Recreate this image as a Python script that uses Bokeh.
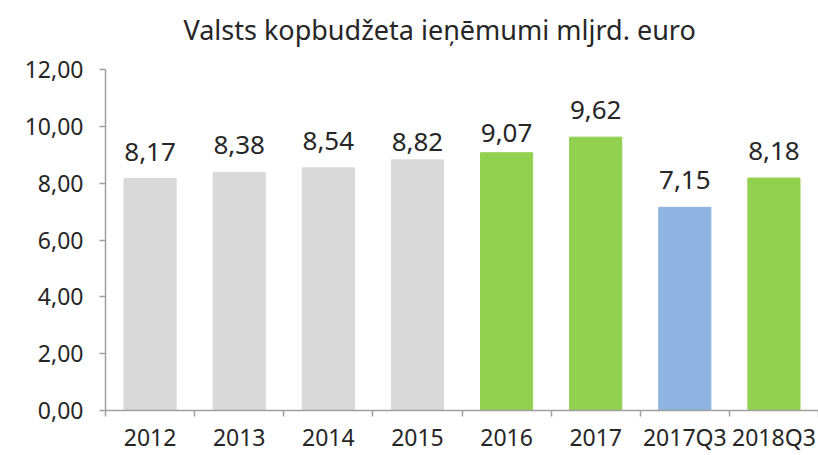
import numpy as np
from bokeh.plotting import figure
from bokeh.models import ColumnDataSource, FixedTicker, LabelSet, Label, Range1d
from bokeh.core.properties import value
from bokeh.embed import file_html
from bokeh.resources import INLINE

categories = ["2012", "2013", "2014", "2015", "2016", "2017", "2017Q3", "2018Q3"]
values = [8.17, 8.38, 8.54, 8.82, 9.07, 9.62, 7.15, 8.18]
bar_colors = ["#d9d9d9", "#d9d9d9", "#d9d9d9", "#d9d9d9",
              "#92d050", "#92d050", "#8db4e2", "#92d050"]
y_ticks = [0, 2, 4, 6, 8, 10, 12]
y_tick_labels = ["0,00", "2,00", "4,00", "6,00", "8,00", "10,00", "12,00"]
title_text = "Valsts kopbudžeta ieņēmumi mljrd. euro"

# label gaps above bars (style, pixels)
label_gaps = [17, 18, 18, 9, 11, 18, 18, 18]

FONT = "Noto Sans"
TXT = "#262626"
AX = "#a0a0a0"

# layout (pixels)
W, H = 818, 455
LEFT, BOTTOM = 105, 45
FRAME_H = H - BOTTOM              # frame runs to the top of the canvas
AXIS_TOP = 12
PX_PER_UNIT = 341 / AXIS_TOP      # 12 units span 341 px
Y_END = FRAME_H / PX_PER_UNIT     # extra headroom holds the title
X_END = len(categories)
PX_PER_CAT = (W - LEFT) / X_END

centers = np.arange(len(categories)) + 0.5
src = ColumnDataSource(dict(
    x=centers, top=values, color=bar_colors, gap=label_gaps,
    label=[f"{v:.2f}".replace(".", ",") for v in values],
))

p = figure(width=W, height=H, output_backend="svg", toolbar_location=None,
           x_range=Range1d(0, X_END), y_range=Range1d(0, Y_END),
           min_border_left=LEFT, min_border_right=0, min_border_top=0,
           min_border_bottom=BOTTOM)
p.outline_line_color = None
p.xgrid.visible = False
p.ygrid.visible = False

# title placed inside the (extended) frame, above the axis range
title = Label(x=78 / PX_PER_CAT, y=(FRAME_H - 29) / PX_PER_UNIT,
              text=title_text, text_font=FONT, text_font_size="27px",
              text_color=TXT, text_align="left", text_baseline="alphabetic")
p.add_layout(title)

p.vbar(x="x", top="top", width=0.585, bottom=0, color="color", source=src)

labels = LabelSet(x="x", y="top", text="label", source=src, y_offset="gap",
                  text_align="center", text_baseline="alphabetic",
                  text_font=value(FONT), text_font_size=value("26px"),
                  text_color=TXT)
p.add_layout(labels)

# x axis: labels at centers, ticks at boundaries
p.xaxis.ticker = FixedTicker(ticks=list(centers),
                             minor_ticks=list(range(len(categories) + 1)))
p.xaxis.major_label_overrides = {float(c): cat for c, cat in zip(centers, categories)}
p.xaxis.major_tick_line_color = None
p.xaxis.minor_tick_in = 0
p.xaxis.minor_tick_out = 6
p.xaxis.minor_tick_line_color = AX
p.xaxis.minor_tick_line_width = 1.5
p.xaxis.axis_line_color = AX
p.xaxis.axis_line_width = 1.5
p.xaxis.major_label_text_font = FONT
p.xaxis.major_label_text_font_size = "23px"
p.xaxis.major_label_text_color = TXT
p.xaxis.major_label_standoff = 4

p.yaxis.bounds = (0, AXIS_TOP)
p.yaxis.ticker = FixedTicker(ticks=y_ticks, minor_ticks=[])
p.yaxis.major_label_overrides = {t: l for t, l in zip(y_ticks, y_tick_labels)}
p.yaxis.major_tick_in = 0
p.yaxis.major_tick_out = 6
p.yaxis.major_tick_line_color = AX
p.yaxis.major_tick_line_width = 1.5
p.yaxis.axis_line_color = AX
p.yaxis.axis_line_width = 1.5
p.yaxis.major_label_text_font = FONT
p.yaxis.major_label_text_font_size = "23px"
p.yaxis.major_label_text_color = TXT
p.yaxis.major_label_standoff = 16

open("out.html", "w").write(file_html(p, INLINE))
